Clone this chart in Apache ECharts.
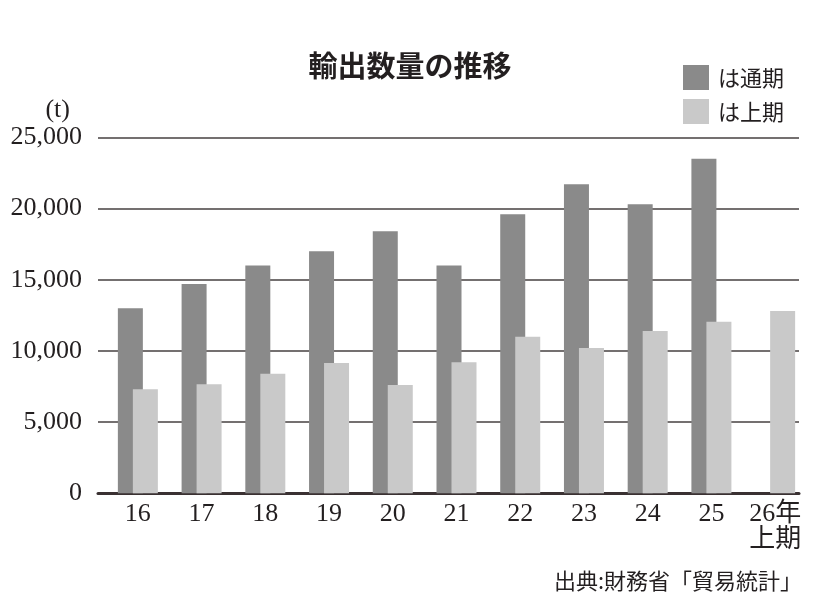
<!DOCTYPE html>
<html>
<head>
    <meta charset="utf-8">
    <title>輸出数量の推移</title>
    <script src="https://cdn.jsdelivr.net/npm/echarts@6/dist/echarts.min.js"></script>
    <style>
        html, body { margin: 0; padding: 0; background: #fff; }
    </style>
</head>
<body>
    <div id="main" style="width: 820px;height:597px;"></div>
    <script type="text/javascript">
        // 年度（横軸）
        var categories = ['16', '17', '18', '19', '20', '21', '22', '23', '24', '25', '26年\n上期'];
        // 通期の輸出数量（t）
        var fullYear = [13000, 14700, 16000, 17000, 18400, 16000, 19600, 21700, 20300, 23500, null];
        // 上期の輸出数量（t）
        var firstHalf = [7300, 7650, 8400, 9150, 7600, 9200, 11000, 10200, 11400, 12050, 12800];
        // 縦軸の目盛
        var yMin = 0, yMax = 25000, yStep = 5000;

        var ink = '#231f20';
        var serif = 'Liberation Serif, "Noto Sans CJK JP", serif';
        var gothic = '"Noto Sans CJK JP", sans-serif';

        var myChart = echarts.init(document.getElementById('main'));
        myChart.setOption({
            animation: false,
            backgroundColor: '#fff',
            // タイトル・単位・出典
            title: [
                {
                    text: '輸出数量の推移',
                    left: 405, top: 46, textAlign: 'center',
                    textStyle: { fontFamily: gothic, fontSize: 29, fontWeight: 'bold', color: ink }
                },
                {
                    text: '(t)',
                    right: 745, top: 92,
                    textStyle: { fontFamily: serif, fontSize: 26, fontWeight: 'normal', color: ink }
                },
                {
                    text: '出典:財務省「貿易統計」',
                    right: 13, top: 565,
                    textStyle: { fontFamily: gothic, fontSize: 22, fontWeight: 'normal', color: ink }
                }
            ],
            legend: {
                orient: 'vertical',
                left: 678, top: 60,
                itemWidth: 26, itemHeight: 25, itemGap: 9,
                icon: 'rect',
                data: ['は通期', 'は上期'],
                textStyle: { fontFamily: gothic, fontSize: 22, color: ink, padding: [0, 0, 0, 4] }
            },
            grid: [
                // 目盛線用
                { left: 98, right: 21, top: 137.3, bottom: 103.7 },
                // 棒グラフ用
                { left: 106, right: 13, top: 137.3, bottom: 103.7 }
            ],
            xAxis: [
                {
                    gridIndex: 0, type: 'category', data: [''],
                    axisLine: { show: true, lineStyle: { color: '#3a3132', width: 3 } },
                    axisTick: { show: false }, axisLabel: { show: false }
                },
                {
                    gridIndex: 1, type: 'category', data: categories,
                    axisLine: { show: false }, axisTick: { show: false },
                    axisLabel: {
                        margin: 8, fontFamily: serif, fontSize: 26, color: ink,
                        lineHeight: 26, interval: 0
                    }
                }
            ],
            yAxis: [
                {
                    gridIndex: 0, type: 'value', min: yMin, max: yMax, interval: yStep,
                    axisLine: { show: false }, axisTick: { show: false },
                    axisLabel: {
                        margin: 16, fontFamily: serif, fontSize: 26, color: ink,
                        formatter: function (v) { return v.toLocaleString('en-US'); }
                    },
                    splitLine: { lineStyle: { color: '#747070', width: 2 } }
                },
                {
                    gridIndex: 1, type: 'value', min: yMin, max: yMax, interval: yStep,
                    show: false
                }
            ],
            series: [
                {
                    name: 'は通期', type: 'bar',
                    xAxisIndex: 1, yAxisIndex: 1,
                    barWidth: 25, barGap: '-40%',
                    itemStyle: { color: '#8a8a8a' },
                    data: fullYear
                },
                {
                    name: 'は上期', type: 'bar',
                    xAxisIndex: 1, yAxisIndex: 1,
                    barWidth: 25, barGap: '-40%',
                    itemStyle: { color: '#c9c9c9' },
                    data: firstHalf
                }
            ]
        });
    </script>
</body>
</html>
